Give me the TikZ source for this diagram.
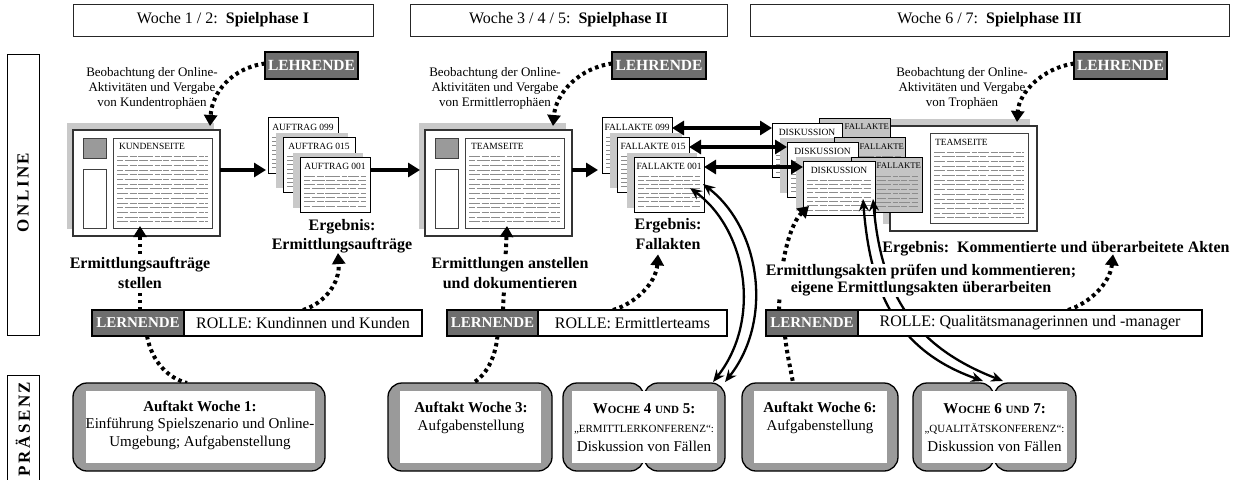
\documentclass[tikz,border=0pt]{standalone}
\usepackage{fontspec}
\setmainfont{Liberation Serif}
\usetikzlibrary{arrows.meta,calc}
\definecolor{darkbox}{HTML}{6E6E6E}
\definecolor{midgray}{HTML}{9A9A9A}
\definecolor{shadegray}{HTML}{C9C9C9}
\definecolor{docgray}{HTML}{C4C4C4}
\definecolor{txtgray}{HTML}{8C8C8C}
\pgfdeclarelayer{bg}
\pgfdeclarelayer{mid}
\pgfsetlayers{bg,mid,main}
\newcommand\fs[2]{\fontsize{#1}{#2}\selectfont}
\newcommand\txl[5]{\foreach \k in {0,...,#4}{\ifodd\k\relax\draw[txtline,txtB] (#1,{#3+\k*#5}) -- (#2,{#3+\k*#5});\else\draw[txtline,txtA] (#1,{#3+\k*#5}) -- (#2,{#3+\k*#5});\fi}}
\newcommand\smc[1]{{\fs{11}{13}#1}}
\begin{document}
\begin{tikzpicture}[x=1pt,y=-1pt,
  every node/.style={inner sep=0pt, outer sep=0pt},
  header/.style={draw=black!85, line width=1pt, fill=white, font=\fs{16}{19}},
  sidebox/.style={draw=black, line width=1pt},
  sidetext/.style={rotate=90, font=\fs{17}{20}\bfseries},
  lehr/.style={draw=black, line width=2pt, fill=darkbox, text=white, font=\fs{15.5}{18}\bfseries},
  obs/.style={align=center, font=\fs{13}{15}},
  shd/.style={fill=shadegray},
  pagebox/.style={draw=black!80, line width=1.2pt, fill=white},
  panel/.style={draw=black!75, line width=0.9pt, fill=white},
  sq/.style={draw=black!75, line width=0.9pt, fill=midgray},
  docbox/.style={draw=black, line width=0.9pt, fill=white},
  gdoc/.style={draw=black, line width=0.9pt, fill=docgray},
  doclabel/.style={font=\fs{9.5}{11}},
  glabel/.style={font=\fs{8.7}{10}},
  txtline/.style={draw=txtgray, line width=1pt},
  txtA/.style={dash pattern=on 11pt off 1.5pt on 7pt off 1.5pt on 15pt off 1.5pt on 5pt off 1.5pt},
  txtB/.style={dash pattern=on 6pt off 1.5pt on 13pt off 1.5pt on 9pt off 1.5pt on 12pt off 1.5pt},
  result/.style={align=center, font=\fs{16}{19.5}\bfseries},
  task/.style={align=center, font=\fs{16}{20}\bfseries, fill=white, inner sep=1pt},
  lern/.style={draw=black, line width=1.5pt, fill=darkbox, text=white, font=\fs{15}{18}\bfseries, minimum height=26pt},
  rolle/.style={draw=black, line width=1.5pt, fill=white, font=\fs{16}{19}, minimum height=26pt},
  meet/.style={draw=black, line width=1.3pt, fill=midgray, rounded corners=14pt, minimum height=88pt},
  meetin/.style={fill=white, minimum height=72pt},
  meettext/.style={align=center, font=\fs{15}{17.5}},
  harrow/.style={line width=3.5pt, -{Triangle[length=12pt,width=14pt]}},
  hdarrow/.style={line width=3.5pt, {Triangle[length=12pt,width=14pt]}-{Triangle[length=12pt,width=14pt]}},
  dblarrow/.style={line width=2.3pt, {Stealth[length=12pt,width=10pt]}-{Stealth[length=12pt,width=10pt]}},
  dotarrow/.style={line width=4pt, dash pattern=on 3.5pt off 3.5pt, -{Triangle[length=11pt,width=13pt]}},
  dotline/.style={line width=4pt, dash pattern=on 3.5pt off 3.5pt},
]
\useasboundingbox (0,0) rectangle (1238,479);

% ================= background layer: pages and documents
\begin{pgfonlayer}{bg}
% page 1
\node[shd, minimum width=147pt, minimum height=106pt] (page1s) at (140.5,176) {};
\node[pagebox, minimum width=147pt, minimum height=106pt] (page1) at (146.5,183) {};
\node[sq, minimum width=23pt, minimum height=20pt] (sq1) at (94.5,148) {};
\node[panel, minimum width=23pt, minimum height=59pt] (nav1) at (94.5,198.5) {};
\node[panel, minimum width=99pt, minimum height=90pt] (panel1) at (162.5,183) {};
\node[doclabel, anchor=west] (title1) at (119,146) {KUNDENSEITE};
\txl{117}{208}{156}{14}{4.7}
% page 2
\node[shd, minimum width=147pt, minimum height=106pt] (page2s) at (492.5,176) {};
\node[pagebox, minimum width=147pt, minimum height=106pt] (page2) at (498.5,183) {};
\node[sq, minimum width=23pt, minimum height=20pt] (sq2) at (446.5,148) {};
\node[panel, minimum width=23pt, minimum height=59pt] (nav2) at (446.5,198.5) {};
\node[panel, minimum width=99pt, minimum height=90pt] (panel2) at (514.5,183) {};
\node[doclabel, anchor=west] (title2) at (471,146) {TEAMSEITE};
\txl{469}{560}{156}{14}{4.7}
% page 3
\node[shd, minimum width=147pt, minimum height=105pt] (page3s) at (956.5,171.5) {};
\node[pagebox, minimum width=147pt, minimum height=105pt] (page3) at (963.5,178.5) {};
\node[panel, minimum width=98pt, minimum height=90pt] (panel3) at (979,178) {};
\node[doclabel, anchor=west] (title3) at (935,142) {TEAMSEITE};
\txl{934}{1024}{152}{14}{4.7}
% AUFTRAG stack
\node[docbox, minimum width=70pt, minimum height=56pt] (a099) at (303,145) {};
\node[doclabel] (a099l) at (303,127) {AUFTRAG 099};
\txl{272}{334}{137}{7}{4.4}
\node[shd, minimum width=72pt, minimum height=55pt] (a015s) at (312,160.5) {};
\node[docbox, minimum width=72pt, minimum height=55pt] (a015) at (319,164.5) {};
\node[doclabel] (a015l) at (319,146.5) {AUFTRAG 015};
\txl{287}{351}{156}{7}{4.4}
\node[shd, minimum width=70pt, minimum height=55pt] (a001s) at (328,180.5) {};
\node[docbox, minimum width=70pt, minimum height=55pt] (a001) at (335,184.5) {};
\node[doclabel] (a001l) at (335,166) {AUFTRAG 001};
\txl{304}{366}{176}{7}{4.3}
% FALLAKTE stack
\node[docbox, minimum width=70pt, minimum height=56pt] (f099) at (637,145) {};
\node[doclabel] (f099l) at (637,127) {FALLAKTE 099};
\txl{606}{668}{137}{7}{4.4}
\node[shd, minimum width=72pt, minimum height=55pt] (f015s) at (646,160.5) {};
\node[docbox, minimum width=72pt, minimum height=55pt] (f015) at (653,164.5) {};
\node[doclabel] (f015l) at (653,146.5) {FALLAKTE 015};
\txl{621}{685}{156}{7}{4.4}
\node[shd, minimum width=70pt, minimum height=55pt] (f001s) at (662,180.5) {};
\node[docbox, minimum width=70pt, minimum height=55pt] (f001) at (669,184.5) {};
\node[doclabel] (f001l) at (669,166) {FALLAKTE 001};
\txl{638}{700}{176}{7}{4.3}
% DISKUSSION stack
\node[gdoc, minimum width=71pt, minimum height=55pt] (g1) at (854.5,145.5) {};
\node[glabel, anchor=east] (g1l) at (889,127) {FALLAKTE};
\txl{823}{886}{137}{7}{4.4}
\node[docbox, minimum width=70pt, minimum height=54pt] (d1) at (807,150) {};
\node[doclabel] (d1l) at (807,132) {DISKUSSION};
\txl{776}{838}{142}{7}{4.4}
\node[shd, minimum width=71pt, minimum height=55pt] (d2s) at (815.5,165.5) {};
\node[gdoc, minimum width=71pt, minimum height=55pt] (g2) at (869.5,164.5) {};
\node[glabel, anchor=east] (g2l) at (904,146.5) {FALLAKTE};
\txl{838}{901}{156}{7}{4.4}
\node[docbox, minimum width=71pt, minimum height=55pt] (d2) at (822.5,169.5) {};
\node[doclabel] (d2l) at (822.5,151.5) {DISKUSSION};
\txl{791}{854}{161}{7}{4.4}
\node[shd, minimum width=72pt, minimum height=54pt] (d3s) at (832,184) {};
\node[gdoc, minimum width=71pt, minimum height=55pt] (g3) at (886.5,184.5) {};
\node[glabel, anchor=east] (g3l) at (921,166) {FALLAKTE};
\txl{855}{918}{176}{7}{4.4}
\node[docbox, minimum width=72pt, minimum height=54pt] (d3) at (839,188) {};
\node[doclabel] (d3l) at (839,170) {DISKUSSION};
\txl{807}{871}{180}{7}{4.3}
\end{pgfonlayer}

% ================= main layer: boxes and labels
\node[header, minimum width=300pt, minimum height=32pt] (h1) at (223,20) {Woche 1 / 2:\ \ \textbf{Spielphase I}};
\node[header, minimum width=317pt, minimum height=32pt] (h2) at (568.5,20) {Woche 3 / 4 / 5:\ \ \textbf{Spielphase II}};
\node[header, minimum width=479pt, minimum height=32pt] (h3) at (989.5,20) {Woche 6 / 7:\ \ \textbf{Spielphase III}};

\node[sidebox, minimum width=32pt, minimum height=281pt] (online) at (23,194.5) {};
\node[sidetext] (onlinet) at (23,192.5) {O\kern2.5pt N\kern2.5pt L\kern2.5pt I\kern2.5pt N\kern2.5pt E};
\node[sidebox, minimum width=32pt, minimum height=112pt] (praesenz) at (23,431) {};
\node[sidetext] (praesenzt) at (23,429) {P\kern2.5pt R\kern2.5pt Ä\kern2.5pt S\kern2.5pt E\kern2.5pt N\kern2.5pt Z};

\node[lehr, minimum width=93pt, minimum height=27pt] (leh1) at (311.5,65.5) {LEHRENDE};
\node[lehr, minimum width=94pt, minimum height=27pt] (leh2) at (659,65.5) {LEHRENDE};
\node[lehr, minimum width=93pt, minimum height=27pt] (leh3) at (1120.5,65.5) {LEHRENDE};

\node[obs] (obs1) at (152,88) {Beobachtung der Online-\\Aktivitäten und Vergabe\\von Kundentrophäen};
\node[obs] (obs2) at (495,88) {Beobachtung der Online-\\Aktivitäten und Vergabe\\von Ermittlerrophäen};
\node[obs] (obs3) at (962,88) {Beobachtung der Online-\\Aktivitäten und Vergabe\\von Trophäen};

\node[result] (e1) at (342,236) {Ergebnis:\\Ermittlungsaufträge};
\node[result] (e2) at (668,234) {Ergebnis:\\Fallakten};
\node[result] (e3) at (1056,249) {Ergebnis:\ \ Kommentierte und überarbeitete Akten};

\node[task] (t1) at (140,272.5) {Ermittlungsaufträge\\stellen};
\node[task] (t2) at (510,273) {Ermittlungen anstellen\\und dokumentieren};
\node[task, font=\fs{16}{17}\bfseries] (t3) at (921,280.5) {Ermittlungsakten prüfen und kommentieren;\\eigene Ermittlungsakten überarbeiten};

\node[rolle, minimum width=238pt] (rolle1) at (303,323) {ROLLE: Kundinnen und Kunden};
\node[lern, minimum width=92pt] (lern1) at (138,323) {LERNENDE};
\node[rolle, minimum width=189pt] (rolle2) at (632.5,323) {ROLLE: Ermittlerteams};
\node[lern, minimum width=91pt] (lern2) at (492.5,323) {LERNENDE};
\node[rolle, minimum width=344pt] (rolle3) at (1030,323) {ROLLE: Qualitätsmanagerinnen und -manager};
\node[lern, minimum width=92pt] (lern3) at (812,323) {LERNENDE};

\node[meet, minimum width=252pt] (b1) at (199,427) {};
\node[meetin, minimum width=229pt] (b1i) at (200.5,427) {};
\node[meettext] (b1t) at (200,425) {\textbf{Auftakt Woche 1:}\\Einführung Spielszenario und Online-\\Umgebung; Aufgabenstellung};

\node[meet, minimum width=164pt] (b3) at (470,427) {};
\node[meetin, minimum width=141pt] (b3i) at (470,427) {};
\node[meettext] (b3t) at (471,418) {\textbf{Auftakt Woche 3:}\\Aufgabenstellung};

\node[meet, minimum width=81pt] (b45l) at (603.5,427) {};
\node[meet, minimum width=81pt] (b45r) at (684.5,427) {};
\node[meetin, minimum width=145pt] (b45i) at (644,427) {};
\node[meettext, font=\fs{15}{19}] (b45t) at (644,428) {\textbf{W\smc{OCHE} 4 \smc{UND} 5:}\\{\fs{11}{13}„ERMITTLERKONFERENZ“:}\\Diskussion von Fällen};

\node[meet, minimum width=156pt] (b6) at (820,427) {};
\node[meetin, minimum width=133pt] (b6i) at (820,427) {};
\node[meettext] (b6t) at (820,418) {\textbf{Auftakt Woche 6:}\\Aufgabenstellung};

\node[meet, minimum width=81pt] (b67l) at (953.5,427) {};
\node[meet, minimum width=82pt] (b67r) at (1035,427) {};
\node[meetin, minimum width=145pt] (b67i) at (994.5,427) {};
\node[meettext, font=\fs{15}{19}] (b67t) at (994.5,428) {\textbf{W\smc{OCHE} 6 \smc{UND} 7:}\\{\fs{11}{13}„QUALITÄTSKONFERENZ“:}\\Diskussion von Fällen};

% ================= connector layer
\begin{pgfonlayer}{mid}
% flow arrows
\draw[harrow] ($(page1.east)+(0,-13)$) -- ($(a099.west)+(-2,25)$);
\draw[harrow] ($(a001.east)+(0,-14.5)$) -- ($(page2s.west)+(1,-6)$);
\draw[harrow] ($(page2.east)+(0,-13)$) -- ($(f099.west)+(-4,25)$);
\draw[hdarrow] ($(f099.east)+(0,-17)$) -- ($(d1.west)+(0,-22)$);
\draw[hdarrow] ($(f015.east)+(0,-17.5)$) -- ($(d2.west)+(0,-22.5)$);
\draw[hdarrow] ($(f001.east)+(0,-17.5)$) -- ($(d3.west)+(0,-21)$);
% conference double arrows
\draw[dblarrow] ($(f001.center)+(21,3.5)$) .. controls (747,230) and (762,320) .. ($(b45r.north)+(28.5,-1)$);
\draw[dblarrow] ($(f001.center)+(34,-0.5)$) .. controls (760,228) and (774,320) .. ($(b45r.north)+(40.5,-1)$);
\draw[dblarrow] ($(d3.center)+(24,11)$) .. controls (870,290) and (895,350) .. ($(b67r.north)+(-52,-2)$);
\draw[dblarrow] ($(d3.center)+(34,11)$) .. controls (881,290) and (910,345) .. ($(b67r.north)+(-32,-2)$);
% teachers
\draw[dotarrow] ($(leh1.west)+(0,-2)$) .. controls (232,68) and (212,92) .. ($(page1s.north)+(69.5,3)$);
\draw[dotarrow] ($(leh2.west)+(0,-2)$) .. controls (580,68) and (556,92) .. ($(page2s.north)+(60.5,3)$);
\draw[dotarrow] ($(leh3.west)+(0,-2)$) .. controls (1043,68) and (1019,92) .. ($(page3s.north)+(60.5,3)$);
% learners up
\draw[dotarrow] ($(lern1.north)+(2,0)$) -- ($(panel1.south)+(-22.5,-2)$);
\draw[dotarrow] ($(lern2.north)+(10.5,0)$) -- ($(panel2.south)+(-7.5,-2)$);
\draw[dotarrow] ($(lern3.north)+(-33,0)$) .. controls (780,255) and (792,222) .. ($(d3.south)+(-30,-9)$);
% roles to results
\draw[dotarrow] (rolle1.north) .. controls (325,303) and (340,283) .. ($(e1.south)+(-4,0)$);
\draw[dotarrow] ($(rolle2.north)+(-19.5,0)$) .. controls (636,303) and (656,283) .. ($(e2.south)+(-10,5)$);
\draw[dotarrow] ($(rolle3.north)+(38,0)$) .. controls (1090,303) and (1110,283) .. ($(e3.south)+(57,-2)$);
% learners down
\draw[dotline] ($(lern1.south)+(9,0)$) .. controls (152,362) and (168,378) .. ($(b1.north)+(-12,0)$);
\draw[dotline] ($(lern2.south)+(5,0)$) .. controls (495,360) and (485,376) .. ($(b3.north)+(3,0)$);
\draw[dotline] ($(lern3.south)+(-27,0)$) .. controls (787,355) and (791,370) .. ($(b6.north)+(-27,0)$);
\end{pgfonlayer}
\end{tikzpicture}
\end{document}
